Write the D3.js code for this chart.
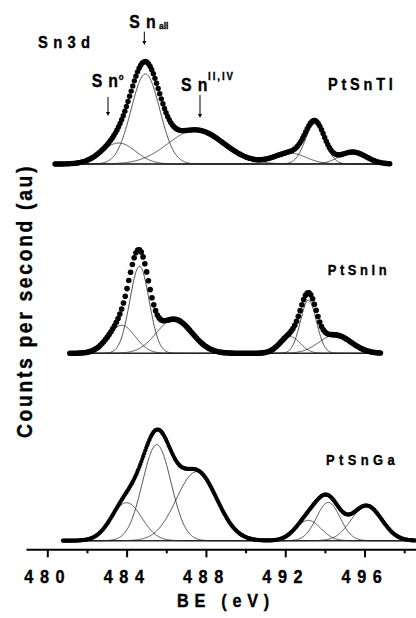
<!DOCTYPE html>
<html>
<head>
<meta charset="utf-8">
<script src="https://cdn.jsdelivr.net/npm/d3@7"></script>
<style>
  body { margin: 0; background: #fff; }
  svg { display: block; }
  text { font-family: "Liberation Sans", Arial, sans-serif; font-weight: bold; fill: #000; stroke: #000; stroke-width: 0.35; }
</style>
</head>
<body>
<svg id="chart" width="416" height="618"></svg>
<script>
// Sn 3d XPS fits, three catalysts; each has 6 fitted components
// order: Sn0 5/2, Sn(all) 5/2, SnII,IV 5/2, Sn0 3/2, Sn(all) 3/2, SnII,IV 3/2
const samples = ["PtSnTl", "PtSnIn", "PtSnGa"];

const tlCenter = [483.6, 484.95, 487.5, 492.24, 493.5, 495.4];
const tlHeight = [21, 90, 34, 11, 40, 12];
const tlFwhm   = [2.0, 1.7, 3.3, 1.9, 1.15, 1.6];

const inCenter = [483.75, 484.65, 486.4, 492.24, 493.17, 494.51];
const inHeight = [28, 87, 34, 16.7, 53, 18.3];
const inFwhm   = [1.6, 1.15, 2.1, 1.2, 0.95, 1.9];

const gaCenter = [484.0, 485.52, 487.53, 493.16, 494.17, 496.1];
const gaHeight = [38, 96, 69, 20.3, 38.3, 35];
const gaFwhm   = [1.8, 1.7, 2.4, 1.5, 1.4, 1.8];

// measured scan range (eV) and point spacing
const scanStart = [480.39, 481.14, 480.79];
const scanEnd   = [497.28, 496.86, 498.54];
const scanStep  = [0.08, 0.09, 0.05];

const tickValues = [480, 482, 484, 486, 488, 490, 492, 494, 496, 498];
const tickLabels = [480, 484, 488, 492, 496];

const fits = [
  {center: tlCenter, height: tlHeight, fwhm: tlFwhm},
  {center: inCenter, height: inHeight, fwhm: inFwhm},
  {center: gaCenter, height: gaHeight, fwhm: gaFwhm}
];

const svg = d3.select("#chart");
const SQ = 0.88; // condensed look

const x = d3.scaleLinear().domain([480, 498]).range([47.3, 404.2]);
const baselines = [164, 353.3, 540.7];
const dotR = [2.7, 2.8, 2.1];
const labelPos = [[328, 90, 16.5, 4.3], [327.7, 275, 14.7, 4.1], [326, 465, 14.7, 5]];

function label(px, py, size, ls, str, anchor) {
  return svg.append("text")
    .attr("transform", `translate(${px},${py}) scale(${SQ},1)`)
    .attr("font-size", size)
    .attr("letter-spacing", ls)
    .attr("text-anchor", anchor || "start")
    .text(str);
}

function gauss(c, h, w) {
  return e => h * Math.exp(-4 * Math.LN2 * (e - c) * (e - c) / (w * w));
}

samples.forEach((name, i) => {
  const f = fits[i];
  const y = d3.scaleLinear().domain([0, 130]).range([baselines[i], baselines[i] - 130]);
  const peaks = f.center.map((c, k) => gauss(c, f.height[k], f.fwhm[k]));
  const envelope = e => d3.sum(peaks, p => p(e));

  const g = svg.append("g").attr("class", "panel");

  const fine = d3.range(scanStart[i], scanEnd[i] + 0.001, 0.02);
  const line = d3.line().x(d => x(d[0])).y(d => y(d[1]));

  g.append("path")
    .attr("d", line([[scanStart[i], 0], [scanEnd[i], 0]]))
    .attr("stroke", "#555").attr("stroke-width", 0.8).attr("fill", "none");

  g.selectAll(".comp").data(peaks).join("path")
    .attr("class", "comp")
    .attr("d", p => line(fine.map(e => [e, p(e)])))
    .attr("fill", "none")
    .attr("stroke", "#222")
    .attr("stroke-width", 0.8);

  const pts = d3.range(scanStart[i], scanEnd[i] + 0.001, scanStep[i]);
  g.selectAll(".dot").data(pts).join("circle")
    .attr("class", "dot")
    .attr("cx", e => x(e))
    .attr("cy", e => y(envelope(e)))
    .attr("r", dotR[i])
    .attr("fill", "#000");

  const lp = labelPos[i];
  label(lp[0], lp[1], lp[2], lp[3], name);
});

// x axis
const axisX = d3.scaleLinear().domain([x.invert(26), x.invert(416)]).range([26, 416]);
const ax = svg.append("g")
  .attr("transform", "translate(0,549.3)")
  .call(d3.axisBottom(axisX)
    .tickValues(tickValues)
    .tickFormat(d => tickLabels.includes(d) ? d : "")
    .tickSize(8)
    .tickSizeOuter(0));
ax.select(".domain").attr("stroke", "#000").attr("stroke-width", 2);
ax.selectAll(".tick line").attr("stroke", "#000").attr("stroke-width", 2)
  .attr("y2", d => tickLabels.includes(d) ? 8 : 4);
ax.selectAll(".tick text")
  .attr("y", null).attr("dy", 0)
  .attr("transform", `translate(0,34) scale(${SQ},1)`)
  .attr("font-size", 18.5).attr("letter-spacing", 7.5)
  .attr("font-family", null);

label(226, 607, 18.5, 6.5, "BE (eV)", "middle");

svg.append("text")
  .attr("transform", `translate(31.5,301) rotate(-90) scale(${SQ},1)`)
  .attr("text-anchor", "middle")
  .attr("font-size", 22).attr("letter-spacing", 3)
  .text("Counts per second (au)");

// annotations
label(38, 48, 16.8, 6, "Sn3d");

const sn = [
  {x: 129.3, y: 27.7, txt: "all", sx: 159, sy: 29, size: 9.5, ls: 0},
  {x: 91.7, y: 87.3, txt: "o", sx: 118.7, sy: 80, size: 9, ls: 0},
  {x: 181, y: 90.5, txt: "II,IV", sx: 208, sy: 80, size: 11, ls: 2.2}
];
sn.forEach(s => {
  const t = svg.append("text")
    .attr("transform", `translate(${s.x},${s.y}) scale(${SQ},1)`)
    .attr("font-size", 18);
  t.append("tspan").attr("letter-spacing", 6.9).text("S");
  t.append("tspan").text("n");
  const sup = svg.append("text")
    .attr("transform", `translate(${s.sx},${s.sy}) scale(${SQ},1)`)
    .attr("font-size", s.size)
    .attr("stroke-width", 0.2);
  // spaced characters without a trailing gap
  s.txt.split("").forEach((ch, k) => sup.append("tspan").attr("dx", k ? s.ls : 0).text(ch));
});

const arrows = [[144.3, 31.7, 45], [108, 97, 116], [200, 95, 118]];
arrows.forEach(a => {
  svg.append("line").attr("x1", a[0]).attr("x2", a[0]).attr("y1", a[1]).attr("y2", a[2] - 3)
    .attr("stroke", "#000").attr("stroke-width", 1);
  svg.append("path")
    .attr("d", `M${a[0] - 2},${a[2] - 4}L${a[0] + 2},${a[2] - 4}L${a[0]},${a[2]}Z`)
    .attr("fill", "#000");
});
</script>
</body>
</html>
